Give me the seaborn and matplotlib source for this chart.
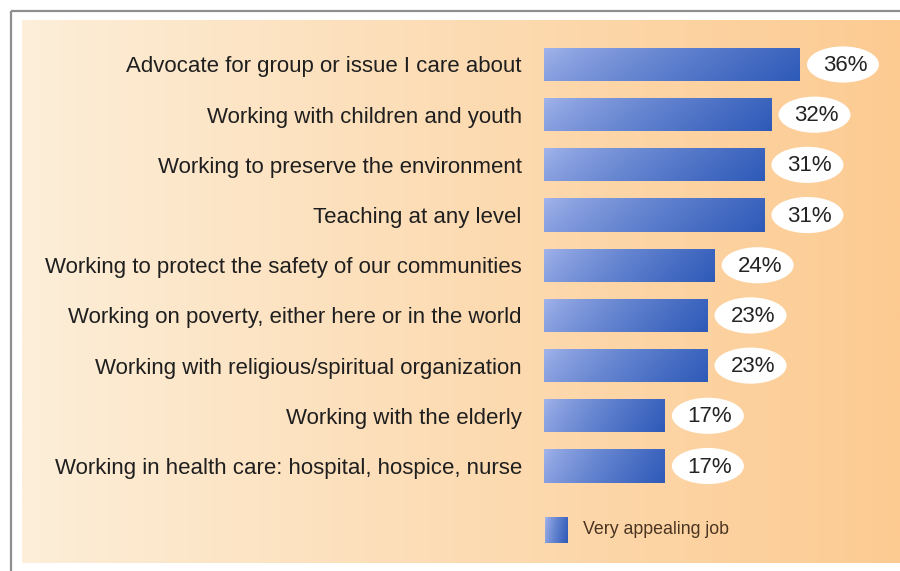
import numpy as np
import matplotlib
matplotlib.use("Agg")
import matplotlib.pyplot as plt
from matplotlib.patches import Ellipse
import seaborn as sns

# Survey results: share rating each job type as "very appealing"
categories = [
    "Advocate for group or issue I care about",
    "Working with children and youth",
    "Working to preserve the environment",
    "Teaching at any level",
    "Working to protect the safety of our communities",
    "Working on poverty, either here or in the world",
    "Working with religious/spiritual organization",
    "Working with the elderly",
    "Working in health care: hospital, hospice, nurse",
]
values = [36, 32, 31, 31, 24, 23, 23, 17, 17]
series_name = "Very appealing job"

sns.set_theme(style="white")
plt.rcParams["font.family"] = ["Liberation Sans", "DejaVu Sans"]

W, H = 900, 571
fig = plt.figure(figsize=(W / 100, H / 100), dpi=100)
fig.patch.set_facecolor("white")

# Background layer in pixel coordinates: warm gradient panel and frame
bg = fig.add_axes([0, 0, 1, 1], zorder=0)
bg.set_xlim(0, W)
bg.set_ylim(H, 0)
bg.axis("off")
t = np.linspace(0, 1, 512)
c_left = np.array([253, 239, 218]) / 255
c_right = np.array([252, 203, 146]) / 255
panel = c_left + (c_right - c_left) * (t ** 0.9)[:, None]
bg.imshow(panel[None, :, :], extent=(22, W, 563, 20), aspect="auto",
          interpolation="bilinear")
bg.plot([10.5, 10.5], [H, 10.5], color="#8e8e8e", lw=1.6, solid_capstyle="butt")
bg.plot([10.5, W], [10.5, 10.5], color="#8e8e8e", lw=1.6, solid_capstyle="butt")

# Main bar axes
px_per_pct = 7.11
ax_left, ax_top, ax_bot = 544, 39.4, 491.1
ax = fig.add_axes([ax_left / W, 1 - ax_bot / H, (W - ax_left) / W,
                   (ax_bot - ax_top) / H], zorder=1)
ax.set_facecolor("none")

sns.barplot(x=values, y=categories, orient="h", ax=ax, width=0.66,
            color="#4a6fc8", saturation=1)

bar_light = np.array([165, 182, 236]) / 255
bar_dark = np.array([46, 90, 184]) / 255
gx = np.linspace(0, 1, 256)
gy = np.linspace(0, 1, 32)
GX, GY = np.meshgrid(gx, gy)
mix = np.clip(0.85 * GX + 0.15 * GY, 0, 1) ** 0.75
bar_img = bar_light + (bar_dark - bar_light) * mix[:, :, None]

for p in ax.patches:
    x0, y0, w, h = p.get_x(), p.get_y(), p.get_width(), p.get_height()
    im = ax.imshow(bar_img, extent=(x0, x0 + w, y0 + h, y0), aspect="auto",
                   interpolation="bilinear", zorder=2)
    im.set_clip_path(p)
    p.set_facecolor("none")
    p.set_edgecolor("none")

for i, v in enumerate(values):
    cx = v + 43 / px_per_pct
    ax.add_patch(Ellipse((cx, i), 72 / px_per_pct, 0.72, facecolor="white",
                         edgecolor="none", zorder=3))
    ax.text(cx + 0.3, i + 0.02, f"{v}%", ha="center", va="center",
            fontsize=16, color="#232323", zorder=4)

ax.set_xlim(0, (W - ax_left) / px_per_pct)
ax.set_ylim(len(categories) - 0.5, -0.5)
ax.set_xlabel("")
ax.set_ylabel("")
ax.set_xticks([])
ax.tick_params(axis="y", length=0, pad=16, labelsize=16, labelcolor="#1f1f1f")
for s in ax.spines.values():
    s.set_visible(False)

# Legend swatch and label
sw = fig.add_axes([545 / W, 1 - 543 / H, 23 / W, 26 / H], zorder=2)
sw.imshow(bar_img[:, ::8], aspect="auto", interpolation="bilinear")
sw.axis("off")
fig.text(583 / W, 1 - 530 / H, series_name, ha="left", va="center",
         fontsize=12.8, color="#4a3522")

fig.savefig("out.png", dpi=100)
